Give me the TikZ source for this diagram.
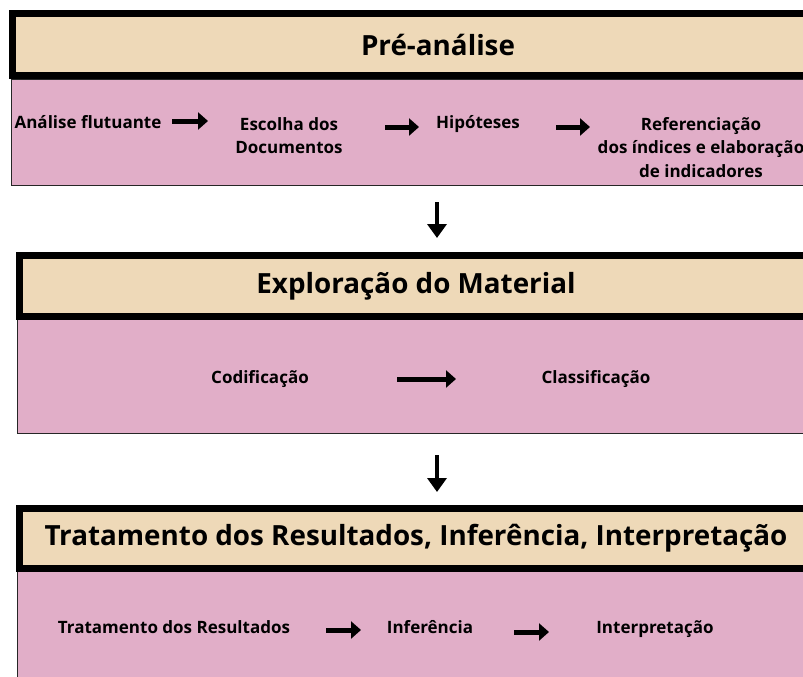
\documentclass[tikz,border=0pt]{standalone}
\usepackage{fontspec}
\setmainfont{Open Sans}
\usetikzlibrary{arrows.meta}
\definecolor{beige}{RGB}{238,217,184}
\definecolor{pinkbg}{RGB}{225,174,200}
\tikzset{
  header/.style={fill=beige, draw=black, line width=7pt},
  body/.style={fill=pinkbg, draw=black!85, line width=1pt},
  title/.style={font=\bfseries\fontsize{27.8}{32}\selectfont, inner sep=0pt},
  item/.style={font=\bfseries\fontsize{17}{23.5}\selectfont, inner sep=0pt, align=center},
  line/.style={item, anchor=base},
  harrow/.style={line width=5pt, -{Triangle[length=10pt,width=17pt]}},
  varrow/.style={line width=4pt, -{Triangle[length=14pt,width=19pt]}},
}
\begin{document}
\begin{tikzpicture}[x=1pt,y=-1pt]
\clip (0,0) rectangle (803,677);
\fill[white] (0,0) rectangle (803,677);
% Box 1
\draw[body] (11,79) rectangle (830,185.5);
\draw[header] (12,13.5) rectangle (830,75.5);
\node[title] (t1) at (438,45) {Pré-análise};
\node[line] (a1) at (88,128.5) {Análise flutuante};
\node[item] (a2) at (289,135.5) {Escolha dos\\Documentos};
\node[line] (a3) at (478,128.5) {Hipóteses};
\node[item] (a4) at (701,147.5) {Referenciação\\dos índices e elaboração\\de indicadores};
\coordinate (h1s) at (172,121); \coordinate (h1e) at (208,121);
\coordinate (h2s) at (385,127); \coordinate (h2e) at (419,127);
\coordinate (h3s) at (556,127); \coordinate (h3e) at (590,127);
\draw[harrow] (h1s) -- (h1e);
\draw[harrow] (h2s) -- (h2e);
\draw[harrow] (h3s) -- (h3e);
% Down arrow 1
\coordinate (d1s) at (437,202); \coordinate (d1e) at (437,238);
\draw[varrow] (d1s) -- (d1e);
% Box 2
\draw[body] (17,319) rectangle (830,433);
\draw[header] (19.5,255) rectangle (830,316.5);
\node[title] (t2) at (416,286) {Exploração do Material};
\node[line] (b1) at (260,383.5) {Codificação};
\node[line] (b2) at (596,383.5) {Classificação};
\coordinate (k1s) at (397,379); \coordinate (k1e) at (456,379);
\draw[harrow] (k1s) -- (k1e);
% Down arrow 2
\coordinate (d2s) at (437,455); \coordinate (d2e) at (437,492);
\draw[varrow] (d2s) -- (d2e);
% Box 3
\draw[body] (17,571) rectangle (830,700);
\draw[header] (19.5,508.5) rectangle (830,568.5);
\node[title] (t3) at (416,538) {Tratamento dos Resultados, Inferência, Interpretação};
\node[line] (c1) at (174,633.5) {Tratamento dos Resultados};
\node[line] (c2) at (430,633.5) {Inferência};
\node[line] (c3) at (655,633.5) {Interpretação};
\coordinate (m1s) at (326,630); \coordinate (m1e) at (361,630);
\coordinate (m2s) at (514,632); \coordinate (m2e) at (549,632);
\draw[harrow] (m1s) -- (m1e);
\draw[harrow] (m2s) -- (m2e);
\end{tikzpicture}
\end{document}
